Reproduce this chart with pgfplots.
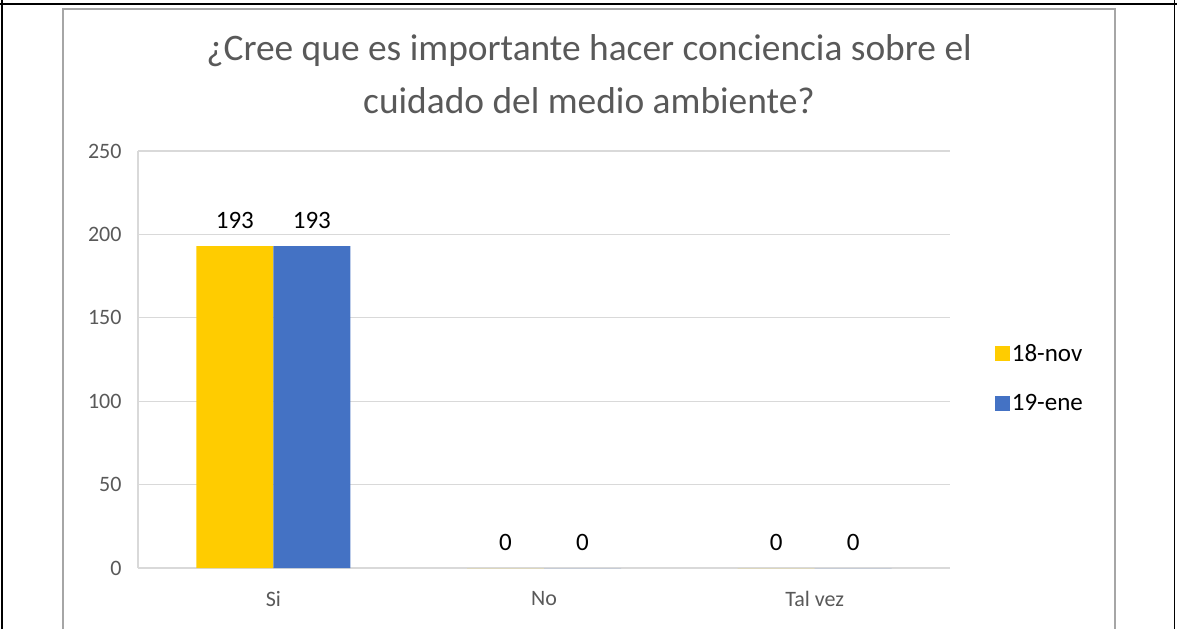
\documentclass[border=0pt]{standalone}
\usepackage{pgfplots}
\pgfplotsset{compat=1.18}
\usepackage{fontspec}
\setmainfont{Carlito}
\definecolor{cyellow}{HTML}{FFCC00}
\definecolor{cblue}{HTML}{4472C4}
\definecolor{tgray}{HTML}{595959}
\definecolor{ggray}{HTML}{D9D9D9}
\definecolor{bgray}{HTML}{A6A6A6}
\begin{document}
\begin{tikzpicture}[x=1pt,y=1pt]
\useasboundingbox (0,0) rectangle (1177,629);
\draw[black, line width=2pt] (0,625) -- (1177,625);
\draw[black, line width=1.5pt] (2,0) -- (2,629);
\draw[black, line width=1.5pt] (1174.5,0) -- (1174.5,629);
\draw[bgray, line width=1.2pt] (63,0) -- (63,620) -- (1115,620) -- (1115,0);
\node[font=\fontsize{37.4}{40}\selectfont, text=tgray] at (589,578) {¿Cree que es importante hacer conciencia sobre el};
\node[font=\fontsize{37.4}{40}\selectfont, text=tgray] at (589,528) {cuidado del medio ambiente?};
\begin{axis}[
  at={(138pt,61pt)}, anchor=south west,
  scale only axis, width=812pt, height=417pt,
  xmin=-0.5, xmax=2.5, ymin=0, ymax=250,
  xtick={0,1,2}, xticklabels={Si,No,Tal vez},
  ytick={0,50,100,150,200,250},
  /pgf/number format/assume math mode=true,
  ybar=0pt, bar width=77pt,
  axis lines*=left,
  axis line style={ggray, line width=1.2pt},
  ymajorgrids, grid style={ggray, line width=1.2pt},
  major tick length=0pt,
  tick label style={text=tgray, font=\fontsize{22}{25}\selectfont},
  yticklabel style={xshift=-13pt},
  xticklabel style={yshift=-20pt},
  nodes near coords,
  every node near coord/.append style={text=black, font=\fontsize{25}{28}\selectfont, yshift=14pt},
  legend style={at={(axis description cs:1.055,0.455)}, anchor=west, draw=none, fill=none,
    font=\fontsize{25}{28}\selectfont, row sep=27pt, inner sep=0pt},
  legend cell align=left,
  legend image code/.code={\fill[#1] (0pt,-7.5pt) rectangle (15pt,7.5pt);},
]
\addplot[fill=cyellow, draw=none] coordinates {(0,193) (1,0) (2,0)};
\addplot[fill=cblue, draw=none] coordinates {(0,193) (1,0) (2,0)};
\legend{18-nov,19-ene}
\end{axis}
\end{tikzpicture}
\end{document}
